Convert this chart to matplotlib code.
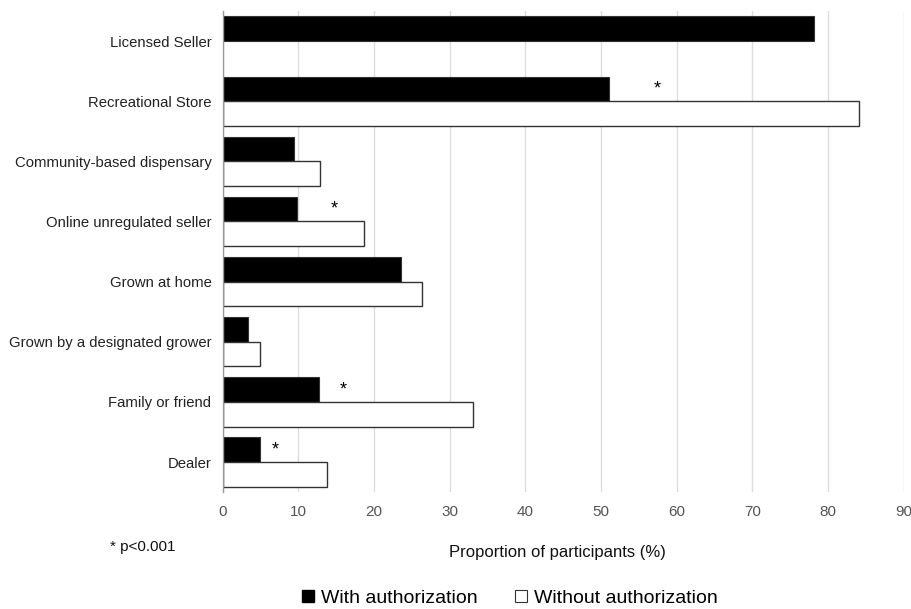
import matplotlib
matplotlib.use("Agg")
import matplotlib.pyplot as plt
from matplotlib.lines import Line2D
import numpy as np

categories = ["Licensed Seller", "Recreational Store", "Community-based dispensary",
              "Online unregulated seller", "Grown at home", "Grown by a designated grower",
              "Family or friend", "Dealer"]
with_auth = [78.1, 51.0, 9.4, 9.9, 23.6, 3.3, 12.8, 5.0]
without_auth = [0.0, 84.1, 12.9, 18.7, 26.3, 4.9, 33.1, 13.8]
# significance markers: (category, x position)
sig_marks = [("Recreational Store", 57.4), ("Online unregulated seller", 14.7),
             ("Family or friend", 16.0), ("Dealer", 7.0)]
xticks = list(range(0, 91, 10))

plt.rcParams['font.family'] = ['Liberation Sans', 'DejaVu Sans']

fig = plt.figure(figsize=(9.12, 6.09), dpi=100)
ax = fig.add_axes([0.244, 0.192, 0.747, 0.790])

n = len(categories)
y = np.arange(n)
h = 0.41
ax.barh(y - h / 2, with_auth, height=h, color='black', edgecolor='#333333', linewidth=0.8, zorder=3)
ax.barh(y + h / 2, [v if v > 0 else np.nan for v in without_auth], height=h, color='white',
        edgecolor='#333333', linewidth=1.0, zorder=3)

for cat, xpos in sig_marks:
    i = categories.index(cat)
    ax.text(xpos, i - h / 2 - 0.0, "*", ha='center', va='center', fontsize=13, color='black', zorder=4)

ax.set_ylim(n - 0.5, -0.5)
ax.set_xlim(0, 90)
ax.set_yticks(y)
ax.set_yticklabels(categories, fontsize=10.7, color='#222222')
ax.set_xticks(xticks)
ax.set_xticklabels([str(t) for t in xticks], fontsize=11, color='#555555')
ax.tick_params(axis='both', length=0)
ax.tick_params(axis='y', pad=8)
ax.tick_params(axis='x', pad=9)

ax.grid(axis='x', color='#dddddd', linewidth=1.0, zorder=0)
ax.set_axisbelow(True)
for s in ['top', 'right', 'bottom']:
    ax.spines[s].set_visible(False)
ax.spines['left'].set_color('#999999')
ax.spines['left'].set_linewidth(1.0)
ax.spines['left'].set_zorder(5)

fig.text(557 / 912, 1 - 552 / 609, "Proportion of participants (%)", ha='center', va='center',
         fontsize=12, color='#111111')
fig.text(110 / 912, 1 - 547 / 609, "* p<0.001", ha='left', va='center', fontsize=11, color='#111111')

handles = [Line2D([], [], marker='s', linestyle='none', markersize=8, markerfacecolor='black',
                  markeredgecolor='black'),
           Line2D([], [], marker='s', linestyle='none', markersize=8, markerfacecolor='white',
                  markeredgecolor='#333333', markeredgewidth=0.8)]
fig.legend(handles, ["With authorization", "Without authorization"], loc='center',
           bbox_to_anchor=(509 / 912, 1 - 598 / 609), ncol=2, frameon=False, fontsize=14,
           handletextpad=0.3, columnspacing=1.8, handlelength=0.8)

fig.savefig("out.png", dpi=100)
